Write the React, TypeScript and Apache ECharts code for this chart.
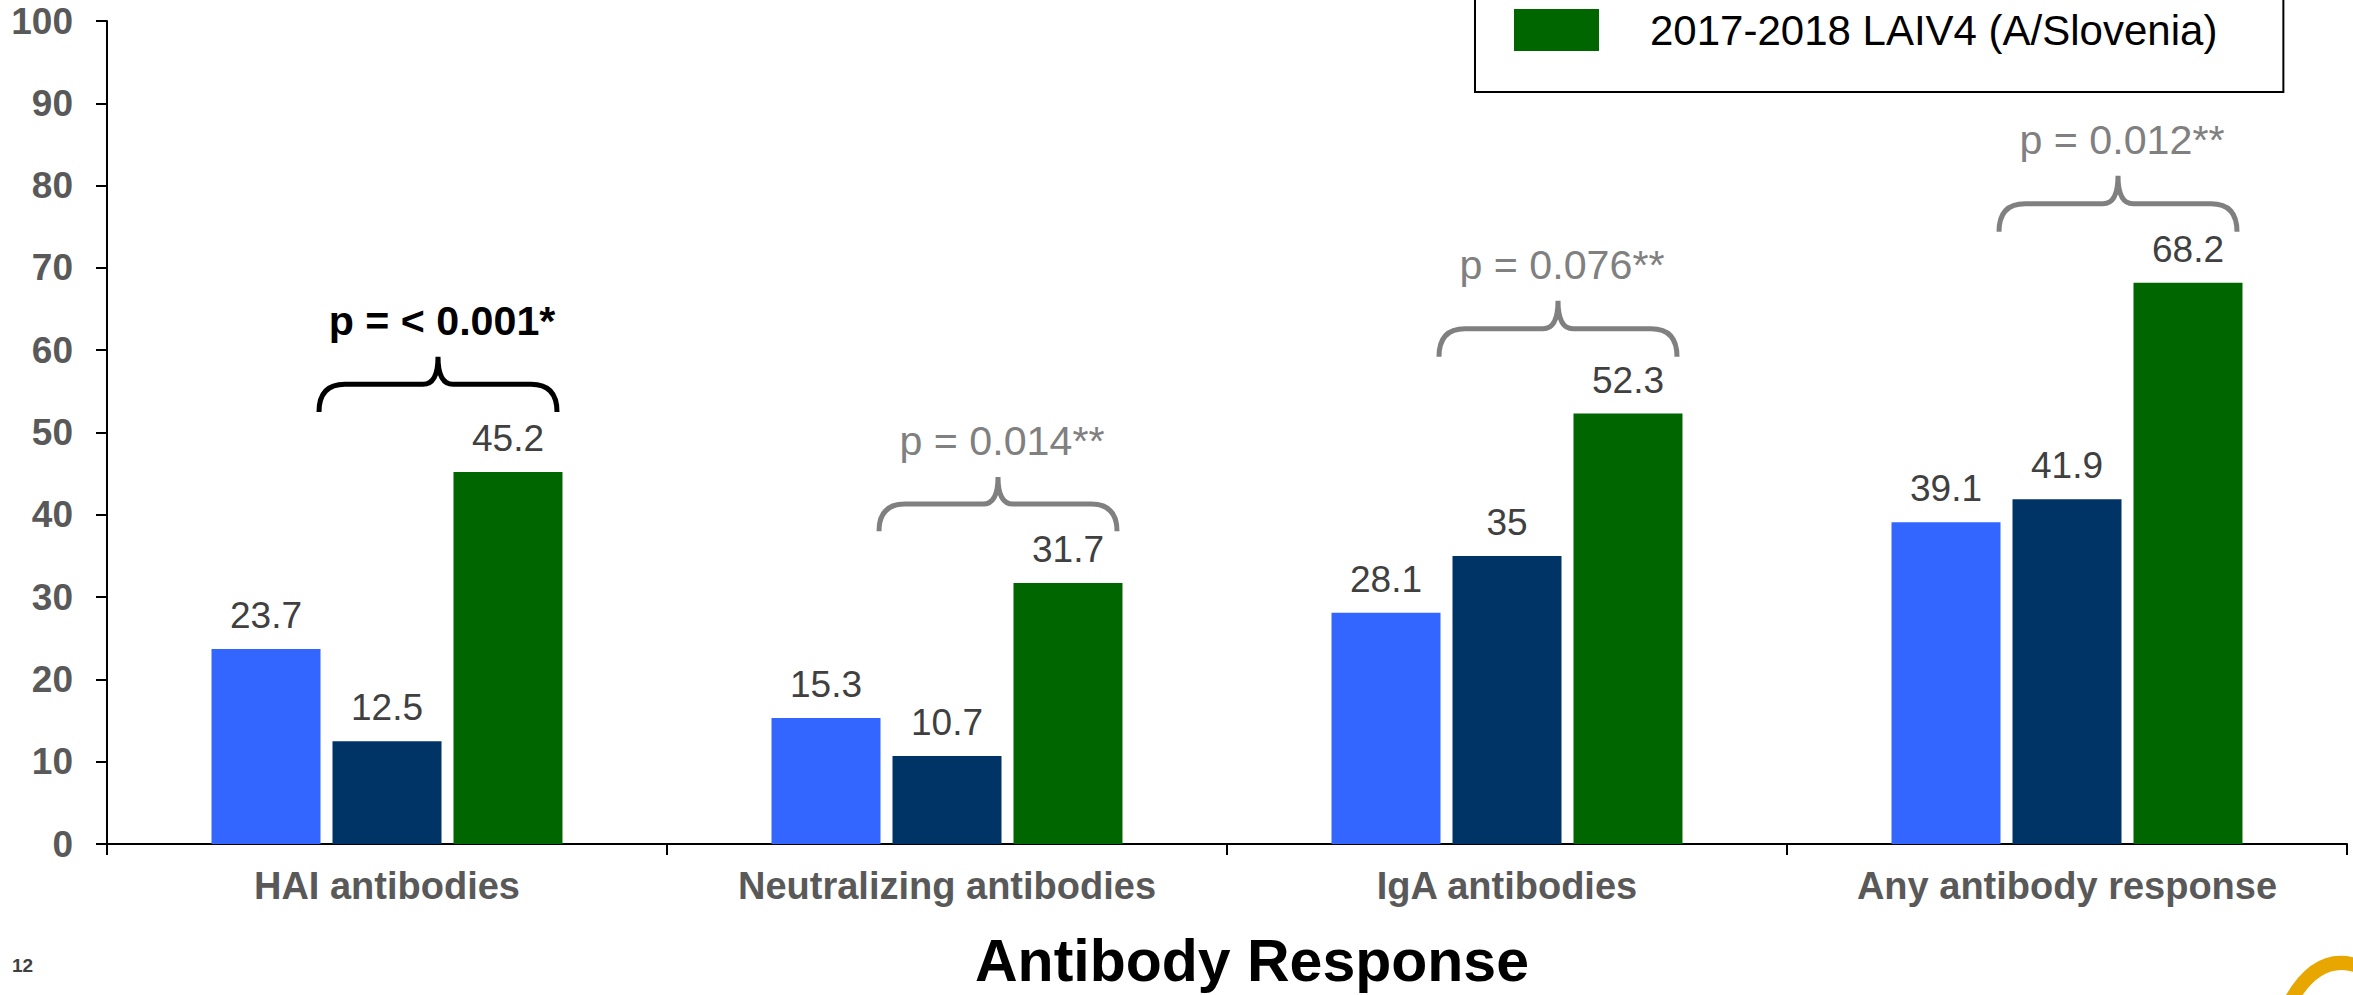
import React, { useEffect, useRef } from 'react';
import * as echarts from 'echarts';

// Response categories and the share of children (%) with each antibody response
const categories = ['HAI antibodies', 'Neutralizing antibodies', 'IgA antibodies', 'Any antibody response'];
const seriesNames = ['2015-2016 LAIV4 (A/Bolivia)', '2016-2017 LAIV4 (A/Bolivia)', '2017-2018 LAIV4 (A/Slovenia)'];
const blueValues = [23.7, 15.3, 28.1, 39.1];
const navyValues = [12.5, 10.7, 35, 41.9];
const greenValues = [45.2, 31.7, 52.3, 68.2];

// Y axis scale
const yMin = 0;
const yMax = 100;
const yStep = 10;

// Significance annotations above each group
const pLabels = ['p = < 0.001*', 'p = 0.014**', 'p = 0.076**', 'p = 0.012**'];
const pBold = [true, false, false, false];
const braceFoot = [52.5, 38.0, 59.2, 74.4];
const bracePeak = [59.2, 44.6, 66.0, 81.2];

const FONT = "'Liberation Sans', Arial, Helvetica, sans-serif";
const COLORS = ['#3366FF', '#003366', '#006600'];

// Curly brace opening downwards, drawn as one stroked path
const Brace = echarts.graphic.extendShape({
  shape: { x1: 0, x2: 0, yFoot: 0, yPeak: 0 },
  buildPath(ctx: any, s: any) {
    const yMid = (s.yFoot + s.yPeak) / 2;
    const xc = (s.x1 + s.x2) / 2;
    const r = 26;
    const rc = 15;
    ctx.moveTo(s.x1, s.yFoot);
    ctx.quadraticCurveTo(s.x1, yMid, s.x1 + r, yMid);
    ctx.lineTo(xc - rc, yMid);
    ctx.quadraticCurveTo(xc, yMid, xc, s.yPeak);
    ctx.quadraticCurveTo(xc, yMid, xc + rc, yMid);
    ctx.lineTo(s.x2 - r, yMid);
    ctx.quadraticCurveTo(s.x2, yMid, s.x2, s.yFoot);
  },
});
echarts.graphic.registerShape('brace', Brace);

export default function App() {
  const ref = useRef<HTMLDivElement>(null);

  useEffect(() => {
    document.body.style.margin = '0';
    const chart = echarts.init(ref.current!, null, { renderer: 'svg' });
    const valueSets = [blueValues, navyValues, greenValues];

    chart.setOption({
      animation: false,
      textStyle: { fontFamily: FONT },
      grid: { left: 107, right: 6, top: 21, bottom: 151, containLabel: false },
      legend: {
        data: [seriesNames[2]],
        left: 1475,
        top: -32,
        orient: 'vertical',
        padding: [41, 66, 41, 39],
        borderColor: '#000',
        borderWidth: 2,
        itemWidth: 85,
        itemHeight: 42,
        icon: 'rect',
        selectedMode: false,
        textStyle: {
          fontFamily: FONT,
          fontSize: 42,
          lineHeight: 42,
          color: '#000',
          padding: [0, 0, 0, 46],
        },
      },
      xAxis: {
        type: 'category',
        data: categories,
        axisLine: { lineStyle: { color: '#000', width: 2 } },
        axisTick: { show: true, alignWithLabel: false, length: 11, lineStyle: { color: '#000', width: 2 } },
        axisLabel: {
          color: '#595959',
          fontSize: 38,
          lineHeight: 38,
          fontWeight: 'bold',
          fontFamily: FONT,
          margin: 23,
          interval: 0,
        },
        splitLine: { show: false },
      },
      yAxis: {
        type: 'value',
        min: yMin,
        max: yMax,
        interval: yStep,
        axisLine: { show: true, lineStyle: { color: '#000', width: 2 } },
        axisTick: { show: true, length: 11, lineStyle: { color: '#000', width: 2 } },
        axisLabel: {
          color: '#595959',
          fontSize: 37,
          fontWeight: 'bold',
          fontFamily: FONT,
          margin: 34,
        },
        splitLine: { show: false },
      },
      series: seriesNames.map((name, i) => ({
        type: 'bar',
        name,
        data: valueSets[i],
        barWidth: 109,
        barGap: '11%',
        itemStyle: { color: COLORS[i] },
        label: {
          show: true,
          position: 'top',
          distance: 15,
          color: '#404040',
          fontSize: 37,
          lineHeight: 37,
          fontFamily: FONT,
        },
      })),
    });

    const graphics: any[] = [];
    categories.forEach((cat, i) => {
      const xc = chart.convertToPixel({ xAxisIndex: 0 }, cat) as number;
      const yFoot = chart.convertToPixel({ yAxisIndex: 0 }, braceFoot[i]) as number;
      const yPeak = chart.convertToPixel({ yAxisIndex: 0 }, bracePeak[i]) as number;
      const x1 = xc - 68;
      const x2 = xc + 170;
      const color = pBold[i] ? '#000000' : '#808080';
      graphics.push({
        type: 'brace',
        shape: { x1, x2, yFoot, yPeak },
        style: { stroke: color, fill: 'none', lineWidth: 5 },
        silent: true,
      });
      graphics.push({
        type: 'text',
        x: (x1 + x2) / 2 + 4,
        y: yPeak - 36,
        scaleX: 1.03,
        style: {
          text: pLabels[i],
          fill: color,
          fontSize: 40,
          fontWeight: pBold[i] ? 'bold' : 'normal',
          fontFamily: FONT,
          align: 'center',
          verticalAlign: 'middle',
        },
        silent: true,
      });
    });

    // Axis title, page number and corner mark
    graphics.push({
      type: 'text',
      x: 1252,
      y: 961,
      style: {
        text: 'Antibody Response',
        fill: '#000',
        fontSize: 59,
        fontWeight: 'bold',
        fontFamily: FONT,
        align: 'center',
        verticalAlign: 'middle',
      },
    });
    graphics.push({
      type: 'text',
      x: 12,
      y: 965,
      style: {
        text: '12',
        fill: '#404040',
        fontSize: 19,
        fontWeight: 'bold',
        fontFamily: FONT,
        align: 'left',
        verticalAlign: 'middle',
      },
    });
    graphics.push({
      type: 'bezierCurve',
      shape: { x1: 2290, y1: 1002, cpx1: 2318, cpy1: 952, x2: 2358, y2: 966 },
      style: { stroke: '#E8A600', lineWidth: 14, fill: 'none' },
      silent: true,
    });

    chart.setOption({ graphic: graphics });

    return () => chart.dispose();
  }, []);

  return <div ref={ref} style={{ width: 2353, height: 995 }} />;
}
